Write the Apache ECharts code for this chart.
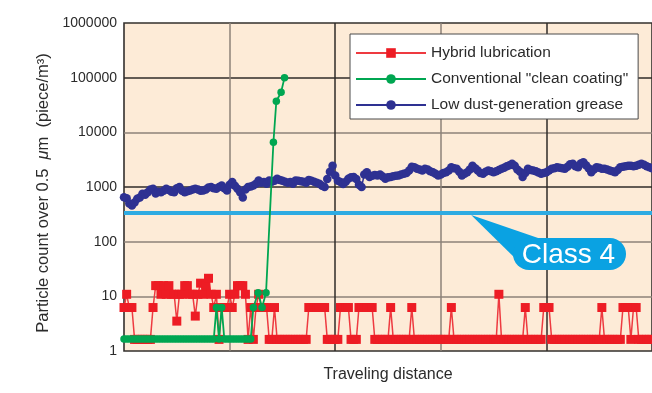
<!DOCTYPE html>
<html><head><meta charset="utf-8">
<script src="https://cdn.jsdelivr.net/npm/echarts@6/dist/echarts.min.js"></script>
<style>html,body{margin:0;padding:0;background:#fff}#c{width:652px;height:393px}</style>
</head><body><div id="c"></div>
<script>
// ---- data ----
const yTickLabels = [1, 10, 100, 1000, 10000, 100000, 1000000];
const seriesNames = ['Hybrid lubrication', 'Conventional "clean coating"', 'Low dust-generation grease'];
// Hybrid lubrication: one value per distance step 0..200
const hybrid = [
  6.24, 10.9, 6.24, 6.24, 1.63, 1.63, 1.63, 1.63, 1.63, 1.63,
  1.63, 6.24, 15.7, 15.7, 10.9, 15.7, 10.9, 15.7, 10.9, 10.9,
  3.52, 10.9, 10.9, 15.7, 15.7, 10.9, 10.9, 4.35, 10.9, 17.4,
  10.9, 15.7, 21.4, 10.9, 6.24, 10.9, 1.63, 6.24, 6.24, 6.24,
  10.9, 6.24, 10.9, 15.7, 15.7, 15.7, 10.9, 1.63, 6.24, 1.63,
  6.24, 10.9, 6.24, 6.24, 6.24, 1.63, 1.63, 6.24, 1.63, 1.63,
  1.63, 1.63, 1.63, 1.63, 1.63, 1.63, 1.63, 1.63, 1.63, 1.63,
  6.24, 6.24, 6.24, 6.24, 6.24, 6.24, 6.24, 1.63, 1.63, 1.63,
  1.63, 1.63, 6.24, 6.24, 6.24, 6.24, 1.63, 1.63, 1.63, 6.24,
  6.24, 6.24, 6.24, 6.24, 6.24, 1.63, 1.63, 1.63, 1.63, 1.63,
  1.63, 6.24, 1.63, 1.63, 1.63, 1.63, 1.63, 1.63, 1.63, 6.24,
  1.63, 1.63, 1.63, 1.63, 1.63, 1.63, 1.63, 1.63, 1.63, 1.63,
  1.63, 1.63, 1.63, 1.63, 6.24, 1.63, 1.63, 1.63, 1.63, 1.63,
  1.63, 1.63, 1.63, 1.63, 1.63, 1.63, 1.63, 1.63, 1.63, 1.63,
  1.63, 1.63, 10.9, 1.63, 1.63, 1.63, 1.63, 1.63, 1.63, 1.63,
  1.63, 1.63, 6.24, 1.63, 1.63, 1.63, 1.63, 1.63, 1.63, 6.24,
  6.24, 6.24, 1.63, 1.63, 1.63, 1.63, 1.63, 1.63, 1.63, 1.63,
  1.63, 1.63, 1.63, 1.63, 1.63, 1.63, 1.63, 1.63, 1.63, 1.63,
  1.63, 6.24, 1.63, 1.63, 1.63, 1.63, 1.63, 1.63, 1.63, 6.24,
  6.24, 6.24, 1.63, 6.24, 6.24, 1.63, 1.63, 1.63, 1.63, 1.63, 1.63
];
// Conventional "clean coating": distance positions and values
const cleanX = [
  0, 1, 2, 3, 4, 5, 6, 7, 8, 9, 10, 11, 12, 13, 14, 15, 16, 17, 18, 19,
  20, 21, 22, 23, 24, 25, 26, 27, 28, 29, 30, 31, 32, 33, 34, 35, 36, 37, 38, 39,
  40, 41, 42, 43, 44, 45, 46, 47, 48, 49, 50.8, 52.3, 53.8, 56.6, 57.7, 59.5, 60.8
];
const cleanY = [
  1.65, 1.65, 1.65, 1.65, 1.65, 1.65, 1.65, 1.65, 1.65, 1.65, 1.65, 1.65, 1.65, 1.65, 1.65, 1.65, 1.65, 1.65, 1.65, 1.65,
  1.65, 1.65, 1.65, 1.65, 1.65, 1.65, 1.65, 1.65, 1.65, 1.65, 1.65, 1.65, 1.65, 1.65, 1.65, 6.24, 1.65, 6.24, 1.65, 1.65,
  1.65, 1.65, 1.65, 1.65, 1.65, 1.65, 1.65, 1.65, 1.65, 6.24, 11.6, 6.24, 11.6, 6600, 37000, 54000, 100000
];
// Low dust-generation grease: one value per distance step 0..200
const grease = [
  650, 620, 500, 460, 520, 610, 640, 750, 720, 800,
  900, 930, 760, 820, 800, 850, 930, 880, 820, 800,
  950, 1000, 850, 800, 840, 860, 900, 930, 900, 850,
  860, 900, 980, 1000, 950, 930, 1000, 1070, 950, 860,
  1100, 1230, 1050, 930, 800, 645, 900, 1000, 1020, 1070,
  1150, 1320, 1200, 1230, 1150, 1320, 1250, 1300, 1420, 1350,
  1300, 1250, 1200, 1230, 1150, 1320, 1300, 1280, 1250, 1200,
  1350, 1300, 1250, 1200, 1150, 1050, 1000, 1400, 1900, 2450,
  1620, 1300, 1230, 1130, 1250, 1420, 1500, 1520, 1400, 1100,
  1000, 1700, 1870, 1520, 1600, 1650, 1620, 1700, 1550, 1420,
  1500, 1520, 1580, 1600, 1620, 1700, 1750, 1800, 2000, 2350,
  2300, 2150, 2100, 2000, 2150, 2100, 1950, 1870, 1750, 1620,
  1700, 1800, 1870, 2000, 2300, 2200, 2150, 1900, 1620, 1750,
  1870, 2100, 2450, 2200, 2000, 1800, 1750, 1900, 2000, 1950,
  1870, 1950, 2050, 2150, 2250, 2400, 2500, 2650, 2450, 2100,
  1900, 1520, 1800, 2150, 2050, 2000, 1950, 1850, 1750, 1800,
  1870, 2000, 2150, 2200, 2300, 2250, 2200, 2150, 2350, 2600,
  2650, 2400, 2300, 2700, 2850, 2500, 2200, 1870, 2100, 2300,
  2250, 2150, 2150, 2100, 2000, 1950, 1870, 2050, 2300, 2350,
  2400, 2450, 2450, 2400, 2450, 2550, 2650, 2550, 2400, 2300, 2200
];
const class4Level = 335;
const class4Label = 'Class 4';
const xMin = 0, xMax = 200, xInterval = 40;

// ---- chart ----
const FONT = '"Liberation Sans", Arial, Helvetica, sans-serif';
const chart = echarts.init(document.getElementById('c'), null, {renderer: 'canvas'});
const hybridData = hybrid.map((v, i) => [i, v]);
const cleanData = cleanX.map((x, i) => [x, cleanY[i]]);
const greaseData = grease.map((v, i) => [i, v]);
const grey = '#8d8279', dark = '#2f2b28';

chart.setOption({
  animation: false,
  textStyle: {fontFamily: FONT},
  grid: {left: 124, right: 0, top: 23, bottom: 42, show: true,
         backgroundColor: '#fdebd7', borderColor: '#33302d', borderWidth: 1.6},
  legend: {
    data: seriesNames, orient: 'vertical', left: 350, top: 34,
    backgroundColor: '#ffffff', borderColor: '#4a4a4a', borderWidth: 1,
    padding: [11, 10, 6, 5], itemGap: 10, itemWidth: 70, itemHeight: 12,
    textStyle: {fontFamily: FONT, fontSize: 15.5, color: '#2b2b2b', lineHeight: 16},
    selectedMode: false
  },
  xAxis: {
    type: 'value', min: xMin, max: xMax, interval: xInterval,
    name: 'Traveling distance', nameLocation: 'middle', nameGap: 16,
    nameTextStyle: {fontSize: 16, color: '#2b2b2b', fontFamily: FONT},
    axisLine: {show: false}, axisTick: {show: false}, axisLabel: {show: false},
    splitLine: {show: true, showMinLine: false, showMaxLine: false,
                lineStyle: {color: [grey, dark], width: 1.5}}
  },
  yAxis: {
    type: 'log', logBase: 10, min: yTickLabels[0], max: yTickLabels[yTickLabels.length - 1],
    name: 'Particle count over 0.5  {i|μ}m  (piece/m³)', nameLocation: 'middle', nameGap: 68,
    nameTextStyle: {fontSize: 16.5, color: '#2b2b2b', fontFamily: FONT, padding: [0, 12, 0, 0],
                    rich: {i: {fontStyle: 'italic', fontSize: 16.5, color: '#2b2b2b', fontFamily: FONT}}},
    axisLine: {show: false}, axisTick: {show: false},
    axisLabel: {fontSize: 14, color: '#2b2b2b', margin: 7, fontFamily: FONT,
                formatter: v => String(Math.round(v))},
    splitLine: {show: true, showMinLine: false, showMaxLine: false,
                lineStyle: {color: [grey, grey, dark, grey, dark], width: 1.5}}
  },
  series: [
    {name: seriesNames[2], type: 'line', data: greaseData, symbol: 'circle', symbolSize: 8.5,
     itemStyle: {color: '#2e3192'}, lineStyle: {color: '#2e3192', width: 1.5}, z: 2},
    {name: 'class4', type: 'line', data: [[xMin, class4Level], [xMax, class4Level]], symbol: 'none',
     lineStyle: {color: '#2eabe2', width: 4}, silent: true, z: 3},
    {name: seriesNames[0], type: 'line', data: hybridData, symbol: 'rect', symbolSize: 9,
     itemStyle: {color: '#ed1c24'}, lineStyle: {color: '#ee3a40', width: 1.5}, z: 4},
    {name: seriesNames[1], type: 'line', data: cleanData, symbol: 'circle', symbolSize: 7.5,
     itemStyle: {color: '#00a651'}, lineStyle: {color: '#00a651', width: 1.8}, z: 5}
  ]
});

// callout bubble pointing to the Class 4 line
const tip = chart.convertToPixel({gridIndex: 0}, [131.5, class4Level]);
const bx = 513, by = 238, bw = 113, bh = 32;
chart.setOption({
  graphic: [
    {type: 'polygon', shape: {points: [[tip[0], tip[1] + 2], [bx + 28, by + 1], [bx + 8, by + bh - 6]]},
     style: {fill: '#0aa2e2'}, z: 20},
    {type: 'rect', shape: {x: bx, y: by, width: bw, height: bh, r: 16},
     style: {fill: '#0aa2e2'}, z: 20},
    {type: 'text', x: bx + bw / 2 - 1, y: by + bh / 2 + 1,
     style: {text: class4Label, fill: '#ffffff', font: '28px ' + FONT, textAlign: 'center', textVerticalAlign: 'middle'}, z: 21}
  ]
});
</script></body></html>
